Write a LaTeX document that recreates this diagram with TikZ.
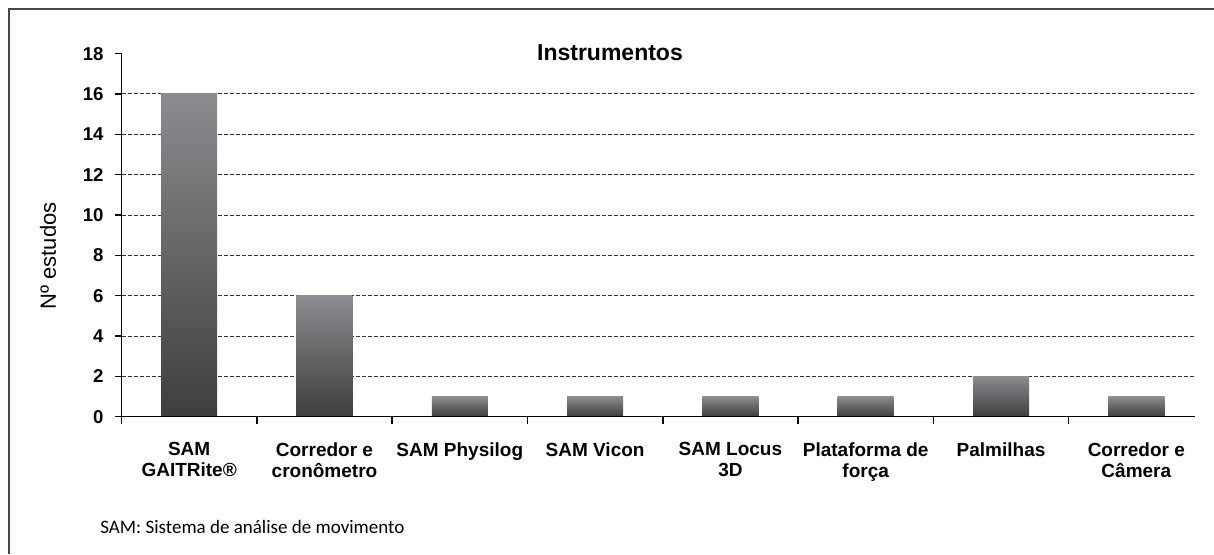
\documentclass[tikz,border=0pt]{standalone}
\usepackage{fontspec}
\setmainfont{Liberation Sans}
\newfontfamily\notefont{Carlito}
\definecolor{bartop}{RGB}{140,140,144}
\definecolor{barbot}{RGB}{62,62,64}
\definecolor{framegray}{RGB}{70,70,70}

\begin{document}
\begin{tikzpicture}[x=67.65pt,y=10.085pt,
    bar/.style={top color=bartop,bottom color=barbot,draw=none},
    grid line/.style={draw=black!80,line width=0.5pt,dash pattern=on 2pt off 1pt},
    axis line/.style={line width=0.75pt},
    tick label/.style={font=\bfseries\fontsize{9.3}{10}\selectfont,inner sep=0pt,anchor=east},
    cat label/.style={font=\bfseries\fontsize{9.5}{10.5}\selectfont,align=center,inner sep=0pt,anchor=north}]
  \useasboundingbox (-0.898,-6.807) rectangle (8.074,20.659);
  \draw[framegray,line width=1pt] (-0.8315,-6.807) |- (8.074,20.213);
  % grid
  \foreach \v in {2,4,...,16}
    \draw[grid line] (0,\v) -- (7.934,\v);
  % bars
  \foreach \v [count=\i] in {16,6,1,1,1,1,2,1}
    \path[bar] (\i-0.707,0) rectangle (\i-0.293,\v);
  % axes and ticks
  \draw[axis line] (0,18) -- (0,-0.35);
  \draw[axis line] (0,0) -- (7.934,0);
  \foreach \v in {0,2,...,18}{
    \draw[axis line] (-0.05,\v) -- (0,\v);
    \node[tick label] at (-0.13,\v) {\v};}
  \foreach \i in {1,...,7}
    \draw[axis line] (\i,0) -- (\i,-0.35);
  % labels
  \node[cat label] (gait) at (0.5,-1.25) {SAM\\GAITRite®};
  \node[cat label] (crono) at (1.5,-1.25) {Corredor e\\cronômetro};
  \node[cat label] (physi) at (2.5,-1.25) {SAM Physilog};
  \node[cat label] (vicon) at (3.5,-1.25) {SAM Vicon};
  \node[cat label] (locus) at (4.5,-1.25) {SAM Locus\\3D};
  \node[cat label] (plat) at (5.5,-1.25) {Plataforma de\\força};
  \node[cat label] (palm) at (6.5,-1.25) {Palmilhas};
  \node[cat label] (camera) at (7.5,-1.25) {Corredor e\\Câmera};
  \node[rotate=90,font=\fontsize{11}{13}\selectfont] (ylab) at (-0.543,7.97) {Nº estudos};
  \node[font=\bfseries\fontsize{11.5}{13}\selectfont,anchor=base] (title) at (3.61,17.68) {Instrumentos};
  \node[font=\notefont\fontsize{9.5}{11}\selectfont,anchor=base west,inner sep=0pt] (note) at (-0.159,-5.766) {SAM: Sistema de análise de movimento};
\end{tikzpicture}
\end{document}
